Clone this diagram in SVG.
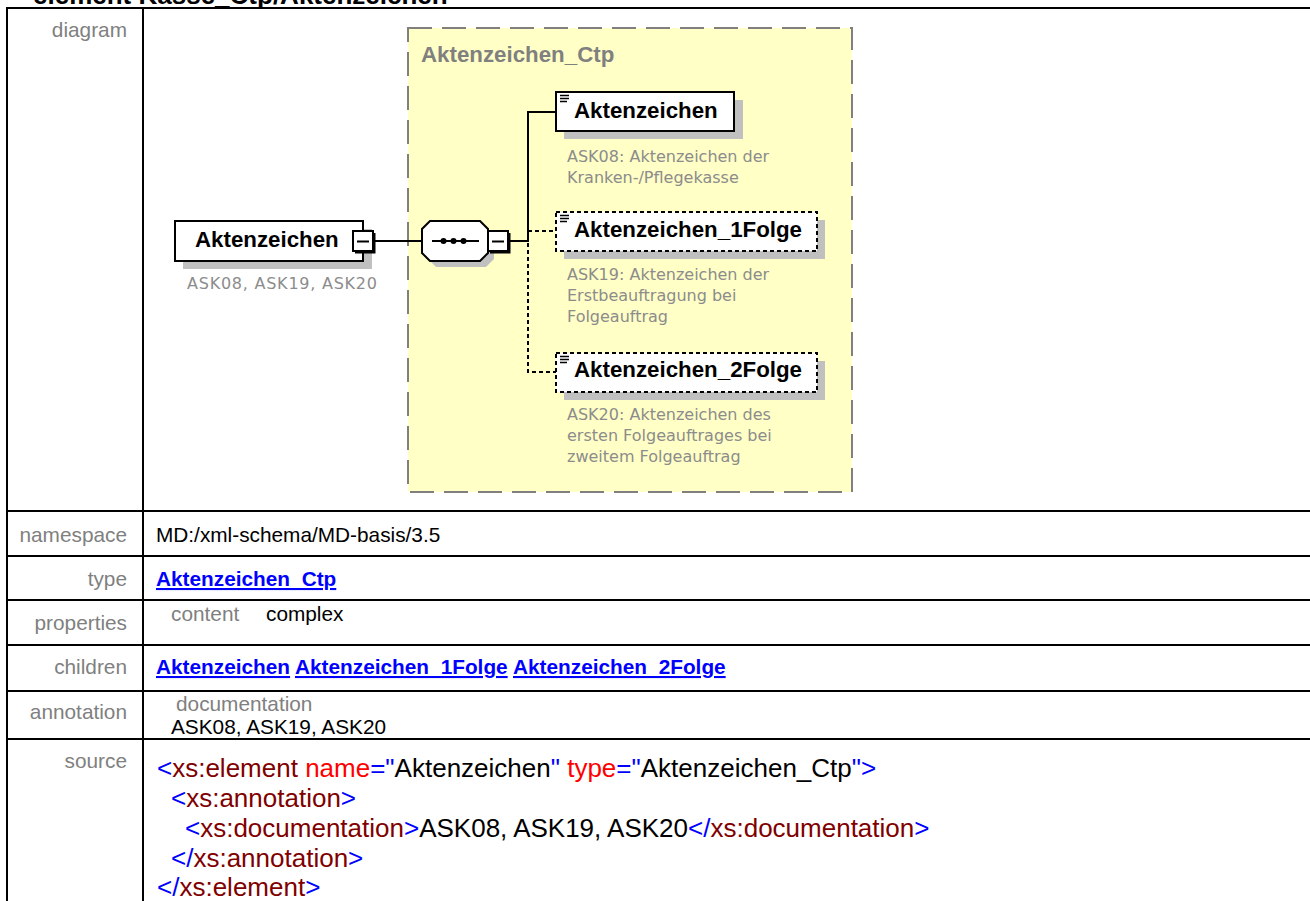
<svg xmlns="http://www.w3.org/2000/svg" width="1310" height="901" viewBox="0 0 1310 901">
<style>
.t{font-family:"Liberation Sans",Arial,sans-serif;font-size:20.8px}
.lbl{fill:#808080;text-anchor:end}
.val{fill:#000}
.lnk{fill:#0000FF;font-weight:bold;text-decoration:underline}
.src{font-family:"Liberation Sans",Arial,sans-serif;font-size:26px}
.b{fill:#0000FF}.e{fill:#800000}.a{fill:#FF0000}.k{fill:#000}
.grid{stroke:#000;stroke-width:2;fill:none}
.nm{font-family:"Liberation Sans",Arial,sans-serif;font-weight:bold;font-size:22.3px;fill:#000}
.cm{font-family:"DejaVu Sans",Verdana,sans-serif;font-size:16px;fill:#8c8c8c}
.sh{fill:#c0c0c0}
.box{fill:#fff;stroke:#000;stroke-width:2}
.dbox{fill:#fff;stroke:#000;stroke-width:2;stroke-dasharray:4 3}
.conn{stroke:#000;stroke-width:2;fill:none}
.dconn{stroke:#000;stroke-width:2;fill:none;stroke-dasharray:4 3}
.ico{stroke:#000;stroke-width:1.4}
</style>
<rect x="0" y="0" width="1310" height="901" fill="#fff"/>
<text x="33" y="4" font-family="Liberation Sans, Arial, sans-serif" font-weight="bold" font-size="26" fill="#000">element Kasse_Ctp/Aktenzeichen</text>

<g id="table">
<path class="grid" d="M6 8H1310M7 7V901M143 8V901M6 511H1310M6 556H1310M6 600H1310M6 645H1310M6 691H1310M6 739H1310"/>
<text class="t lbl" x="127" y="37">diagram</text>
<text class="t lbl" x="127" y="542">namespace</text>
<text class="t val" x="156" y="542">MD:/xml-schema/MD-basis/3.5</text>
<text class="t lbl" x="127" y="586">type</text>
<text class="t lnk" x="156" y="586">Aktenzeichen_Ctp</text>
<text class="t lbl" x="127" y="630">properties</text>
<text class="t" x="171" y="621" fill="#808080">content</text>
<text class="t val" x="266" y="621">complex</text>
<text class="t lbl" x="127" y="674">children</text>
<text class="t lnk" x="156" y="674">Aktenzeichen</text>
<text class="t lnk" x="295" y="674">Aktenzeichen_1Folge</text>
<text class="t lnk" x="513" y="674">Aktenzeichen_2Folge</text>
<text class="t lbl" x="127" y="719">annotation</text>
<text class="t" x="176" y="711" fill="#808080" font-size="19.8">documentation</text>
<text class="t val" x="171" y="734">ASK08, ASK19, ASK20</text>
<text class="t lbl" x="127" y="768">source</text>
<text class="src" x="157" y="777"><tspan class="b">&lt;</tspan><tspan class="e">xs:element</tspan><tspan class="a"> name</tspan><tspan class="b">="</tspan><tspan class="k">Aktenzeichen</tspan><tspan class="b">"</tspan><tspan class="a"> type</tspan><tspan class="b">="</tspan><tspan class="k">Aktenzeichen_Ctp</tspan><tspan class="b">"&gt;</tspan></text>
<text class="src" x="171" y="807"><tspan class="b">&lt;</tspan><tspan class="e">xs:annotation</tspan><tspan class="b">&gt;</tspan></text>
<text class="src" x="185" y="837"><tspan class="b">&lt;</tspan><tspan class="e">xs:documentation</tspan><tspan class="b">&gt;</tspan><tspan class="k">ASK08, ASK19, ASK20</tspan><tspan class="b">&lt;/</tspan><tspan class="e">xs:documentation</tspan><tspan class="b">&gt;</tspan></text>
<text class="src" x="171" y="867"><tspan class="b">&lt;/</tspan><tspan class="e">xs:annotation</tspan><tspan class="b">&gt;</tspan></text>
<text class="src" x="157" y="896"><tspan class="b">&lt;/</tspan><tspan class="e">xs:element</tspan><tspan class="b">&gt;</tspan></text>
</g>

<g id="type-Aktenzeichen_Ctp">
<rect x="408" y="28" width="444" height="464" fill="#FFFFC6" stroke="#808080" stroke-width="2" stroke-dasharray="24 10"/>
<text x="421" y="62" font-family="Liberation Sans, Arial, sans-serif" font-weight="bold" font-size="22.3" fill="#808080">Aktenzeichen_Ctp</text>
</g>

<g id="connectors">
<path class="conn" d="M375 241H422"/>
<path class="conn" d="M509 241H528V112H556"/>
<path class="dconn" d="M528 231H556"/>
<path class="dconn" d="M528 243V372H556"/>
</g>

<g id="node-main">
<rect class="sh" x="183" y="229" width="189" height="40"/>
<rect class="box" x="175" y="221" width="188" height="40"/>
<text class="nm" x="195" y="247">Aktenzeichen</text>
<rect class="box" x="353" y="231" width="20" height="20"/>
<path class="conn" d="M374.5 233V252.5H355"/>
<path class="conn" d="M357 241.5H369"/>
<text class="cm" x="187" y="289" textLength="190" lengthAdjust="spacing">ASK08, ASK19, ASK20</text>
</g>

<g id="sequence">
<polygon class="sh" points="436,227 486,227 494,235 494,259 486,267 436,267 428,259 428,235"/>
<polygon class="box" points="430,221 480,221 488,229 488,253 480,261 430,261 422,253 422,229"/>
<path class="conn" d="M432 241H479"/>
<circle cx="443.5" cy="241" r="3"/>
<circle cx="453.5" cy="241" r="3"/>
<circle cx="463.5" cy="241" r="3"/>
<rect class="box" x="488" y="231" width="20" height="20"/>
<path class="conn" d="M509.5 233V252.5H490"/>
<path class="conn" d="M492 241.5H504"/>
</g>

<g id="node-Aktenzeichen">
<rect class="sh" x="564" y="100" width="179" height="39"/>
<rect class="box" x="556" y="92" width="178" height="39"/>
<path class="ico" d="M560 95.5H569M560 98.5H569M560 101.5H567"/>
<text class="nm" x="574" y="118">Aktenzeichen</text>
<text class="cm" x="567" y="161.5">ASK08: Aktenzeichen der</text>
<text class="cm" x="567" y="183">Kranken-/Pflegekasse</text>
</g>

<g id="node-Aktenzeichen_1Folge">
<rect class="sh" x="564" y="220" width="261" height="39"/>
<rect class="dbox" x="556" y="212" width="261" height="39"/>
<path class="ico" d="M560 215.5H569M560 218.5H569M560 221.5H567"/>
<text class="nm" x="574" y="237">Aktenzeichen_1Folge</text>
<text class="cm" x="567" y="280">ASK19: Aktenzeichen der</text>
<text class="cm" x="567" y="301">Erstbeauftragung bei</text>
<text class="cm" x="567" y="322">Folgeauftrag</text>
</g>

<g id="node-Aktenzeichen_2Folge">
<rect class="sh" x="564" y="361" width="261" height="39"/>
<rect class="dbox" x="556" y="353" width="261" height="39"/>
<path class="ico" d="M560 356.5H569M560 359.5H569M560 362.5H567"/>
<text class="nm" x="574" y="377">Aktenzeichen_2Folge</text>
<text class="cm" x="567" y="420">ASK20: Aktenzeichen des</text>
<text class="cm" x="567" y="441">ersten Folgeauftrages bei</text>
<text class="cm" x="567" y="462">zweitem Folgeauftrag</text>
</g>
</svg>
